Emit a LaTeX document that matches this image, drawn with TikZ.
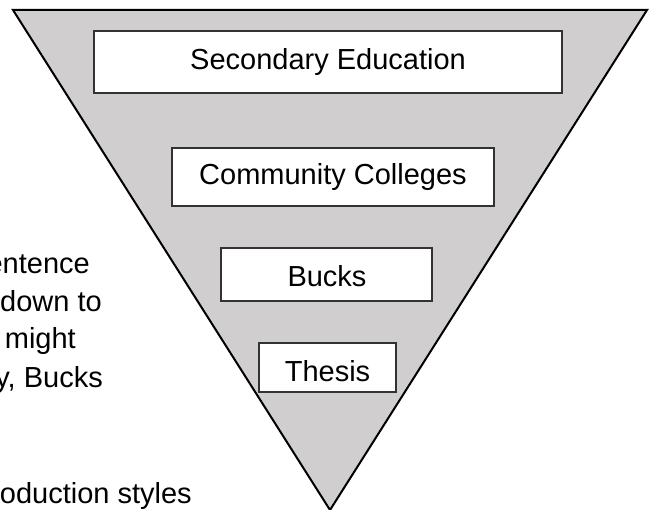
\documentclass[tikz,border=0pt]{standalone}
\usepackage{fontspec}
\setmainfont{Liberation Sans}
\definecolor{funnelgray}{RGB}{208,206,207}
\definecolor{boxline}{RGB}{50,50,50}
\begin{document}
\begin{tikzpicture}[x=1pt,y=-1pt,
  funnel/.style={draw=black,line width=2pt,fill=funnelgray,line join=miter},
  stagebox/.style={draw=boxline,line width=1.1pt,fill=white,rectangle,inner sep=0pt},
  stagetext/.style={anchor=base,inner sep=0pt,font=\fontsize{29}{33}\selectfont},
  sidetext/.style={anchor=base east,inner sep=0pt,font=\fontsize{29}{33}\selectfont}]
\useasboundingbox (0,0) rectangle (655,510);
% funnel
\coordinate (tl) at (13,10);
\coordinate (tr) at (647,10);
\coordinate (ap) at (330,510);
\draw[funnel] (tl) -- (tr) -- (ap) -- cycle;
% boxes
\node[stagebox,minimum width=468pt,minimum height=62pt] (b1) at (328,62) {};
\node[stagebox,minimum width=322pt,minimum height=58pt] (b2) at (333,177) {};
\node[stagebox,minimum width=211pt,minimum height=53pt] (b3) at (326.5,274.5) {};
\node[stagebox,minimum width=137pt,minimum height=49pt] (b4) at (327.5,367.5) {};
\node[stagetext] (t1) at (328,69.5) {Secondary Education};
\node[stagetext] (t2) at (333,185) {Community Colleges};
\node[stagetext] (t3) at (327,287) {Bucks};
\node[stagetext] (t4) at (327.5,381.5) {Thesis};
% cut-off text on the left
\node[sidetext] (s1) at (90,273) {entence};
\node[sidetext] (s2) at (102,311) {down to};
\node[sidetext] (s3) at (76,348) {might};
\node[sidetext] (s4) at (103,387) {y, Bucks};
\node[sidetext] (s5) at (192,503) {oduction styles};
\end{tikzpicture}
\end{document}
